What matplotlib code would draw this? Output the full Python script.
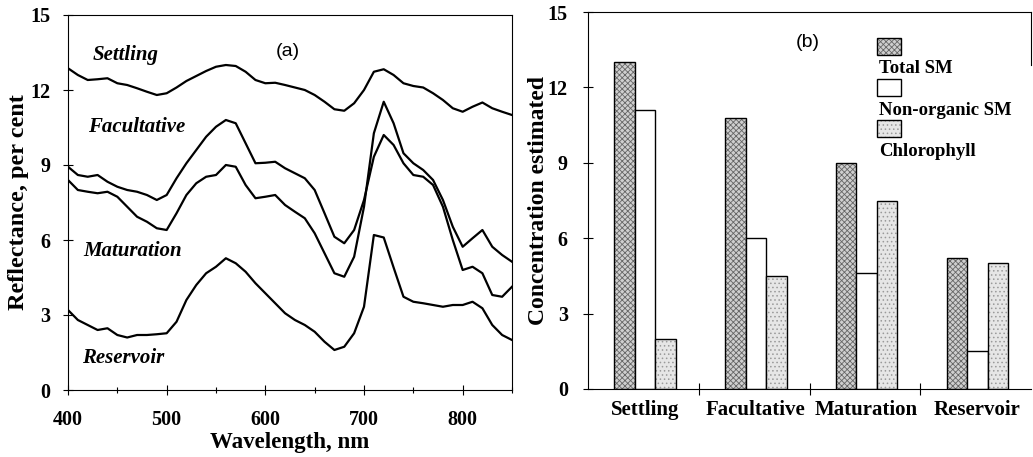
import matplotlib
matplotlib.use("Agg")
import matplotlib.pyplot as plt
from matplotlib.patches import Rectangle
from matplotlib.font_manager import FontProperties
import numpy as np

# ---------------- data ----------------
wavelength = [400, 410, 420, 430, 440, 450, 460, 470, 480, 490,
              500, 510, 520, 530, 540, 550, 560, 570, 580, 590,
              600, 610, 620, 630, 640, 650, 660, 670, 680, 690,
              700, 710, 720, 730, 740, 750, 760, 770, 780, 790,
              800, 810, 820, 830, 840, 850]

settling = [12.87, 12.60, 12.40, 12.43, 12.47, 12.27, 12.20, 12.07, 11.93, 11.80,
            11.87, 12.10, 12.36, 12.56, 12.76, 12.93, 13.00, 12.96, 12.73, 12.40,
            12.27, 12.29, 12.20, 12.10, 12.00, 11.80, 11.53, 11.23, 11.17, 11.47,
            12.00, 12.73, 12.83, 12.60, 12.27, 12.16, 12.10, 11.87, 11.60, 11.27,
            11.13, 11.33, 11.50, 11.27, 11.13, 11.00]

facultative = [8.93, 8.60, 8.53, 8.60, 8.33, 8.13, 8.00, 7.93, 7.80, 7.60,
               7.80, 8.47, 9.07, 9.60, 10.13, 10.53, 10.80, 10.67, 9.87, 9.07,
               9.09, 9.13, 8.87, 8.67, 8.47, 8.00, 7.07, 6.13, 5.87, 6.40,
               7.60, 9.33, 10.20, 9.80, 9.07, 8.60, 8.53, 8.20, 7.33, 6.00,
               4.80, 4.93, 4.67, 3.80, 3.73, 4.13]

maturation = [8.40, 8.00, 7.93, 7.87, 7.93, 7.73, 7.33, 6.93, 6.73, 6.47,
              6.40, 7.07, 7.80, 8.27, 8.53, 8.60, 9.00, 8.93, 8.20, 7.67,
              7.73, 7.80, 7.40, 7.13, 6.87, 6.27, 5.47, 4.67, 4.53, 5.33,
              7.33, 10.27, 11.53, 10.67, 9.47, 9.07, 8.80, 8.40, 7.60, 6.53,
              5.73, 6.07, 6.40, 5.73, 5.40, 5.13]

reservoir = [3.20, 2.80, 2.60, 2.40, 2.47, 2.20, 2.10, 2.20, 2.20, 2.23,
             2.27, 2.73, 3.60, 4.20, 4.67, 4.93, 5.27, 5.07, 4.73, 4.27,
             3.87, 3.47, 3.07, 2.80, 2.60, 2.33, 1.93, 1.60, 1.73, 2.27,
             3.33, 6.20, 6.10, 4.90, 3.73, 3.53, 3.47, 3.40, 3.33, 3.40,
             3.40, 3.53, 3.27, 2.60, 2.20, 2.00]

curve_names = ["Settling", "Facultative", "Maturation", "Reservoir"]

ponds = ["Settling", "Facultative", "Maturation", "Reservoir"]
total_sm = [13.0, 10.8, 9.0, 5.2]
nonorganic_sm = [11.1, 6.0, 4.6, 1.5]
chlorophyll = [2.0, 4.5, 7.5, 5.0]
series_labels = ["Total SM", "Non-organic SM", "Chlorophyll"]

yticks = [0, 3, 6, 9, 12, 15]

# ---------------- figure ----------------
W, H = 1033, 457
fig = plt.figure(figsize=(W / 100, H / 100), dpi=100)
serif = ["Liberation Serif", "DejaVu Serif"]
plt.rcParams["hatch.linewidth"] = 0.6


def frac(x0, y0, x1, y1):
    return [x0 / W, 1 - y1 / H, (x1 - x0) / W, (y1 - y0) / H]


tick_fp = FontProperties(family=serif, weight="bold", size=14.5)

# ---- panel (a)
ax1 = fig.add_axes(frac(68, 15, 512, 390))
for y in (settling, facultative, maturation, reservoir):
    ax1.plot(wavelength, y, color="black", lw=1.6)
ax1.set_xlim(400, 850)
ax1.set_ylim(0, 15)
ax1.set_xticks([400, 500, 600, 700, 800])
ax1.set_xticks([450, 550, 650, 750, 850], minor=True)
ax1.set_yticks(yticks)
ax1.tick_params(direction="inout", length=7, width=0.8, which="both")
ax1.tick_params(axis="x", which="minor", length=5)
ax1.tick_params(axis="x", which="major", pad=11)
ax1.tick_params(axis="y", which="major", pad=9)
for lab in ax1.get_xticklabels() + ax1.get_yticklabels():
    lab.set_fontproperties(tick_fp)
for s in ax1.spines.values():
    s.set_linewidth(0.8)
ax1.set_xlabel("Wavelength, nm", fontfamily=serif, fontweight="bold", fontsize=16.5, labelpad=1)
ax1.set_ylabel("Reflectance, per cent", fontfamily=serif, fontweight="bold", fontsize=17.5, labelpad=1)
ax1.text(0.495, 0.904, "(a)", transform=ax1.transAxes, ha="center", va="center", fontsize=14,
         fontfamily="Liberation Sans")
label_pos = [(425, 13.4), (420, 10.5), (415, 5.55), (414, 1.28)]
for name, (lx, ly) in zip(curve_names, label_pos):
    ax1.text(lx, ly, name, fontfamily=serif, fontweight="bold", fontstyle="italic",
             fontsize=15, ha="left", va="center")

# ---- panel (b)
ax2 = fig.add_axes(frac(588, 12, 1031, 389))
xg = np.arange(len(ponds))
bw = 0.185
offs = [0.33, 0.515, 0.70]
fills = [("#cfcfcf", "xxxxxx", "#666666"), ("white", None, None), ("#e6e6e6", "....", "#9a9a9a")]
for vals, off, (fc, hatch, hc) in zip([total_sm, nonorganic_sm, chlorophyll], offs, fills):
    if hatch:
        ax2.bar(xg + off, vals, width=bw, color=fc, hatch=hatch, edgecolor=hc, linewidth=0)
    ax2.bar(xg + off, vals, width=bw, fill=(hatch is None), facecolor="white",
            edgecolor="black", linewidth=1.0)
ax2.set_xlim(0, 4)
ax2.set_ylim(0, 15)
ax2.set_yticks(yticks)
ax2.set_xticks(xg + 0.515)
ax2.set_xticklabels(ponds)
ax2.set_xticks([1, 2, 3], minor=True)
ax2.tick_params(axis="x", which="major", length=0, pad=8)
ax2.tick_params(axis="x", which="minor", direction="inout", length=8, width=0.8)
ax2.tick_params(axis="y", direction="inout", length=7, width=0.8, pad=11)
for lab in ax2.get_xticklabels():
    lab.set_fontproperties(FontProperties(family=serif, weight="bold", size=15))
for lab in ax2.get_yticklabels():
    lab.set_fontproperties(tick_fp)
ax2.spines["right"].set_visible(False)
for s in ax2.spines.values():
    s.set_linewidth(0.8)
ax2.plot([1, 1], [1, 0.86], transform=ax2.transAxes, color="black", lw=0.8, clip_on=False)
ax2.set_ylabel("Concentration estimated", fontfamily=serif, fontweight="bold", fontsize=17, labelpad=-1)
ax2.text(0.495, 0.918, "(b)", transform=ax2.transAxes, ha="center", va="center", fontsize=14,
         fontfamily="Liberation Sans")

# legend (stacked swatch above label)
sw_y = [0.886, 0.777, 0.668]
lab_y = [0.849, 0.740, 0.629]
for (fc, hatch, hc), sy, ly, name in zip(fills, sw_y, lab_y, series_labels):
    if hatch:
        ax2.add_patch(Rectangle((0.653, sy), 0.054, 0.045, transform=ax2.transAxes,
                                facecolor=fc, hatch=hatch, edgecolor=hc, linewidth=0))
    ax2.add_patch(Rectangle((0.653, sy), 0.054, 0.045, transform=ax2.transAxes,
                            fill=False, edgecolor="black", linewidth=1.0))
    ax2.text(0.658, ly, name, transform=ax2.transAxes, ha="left", va="center",
             fontfamily=serif, fontweight="bold", fontsize=13.5)

fig.savefig("out.png", dpi=100)
